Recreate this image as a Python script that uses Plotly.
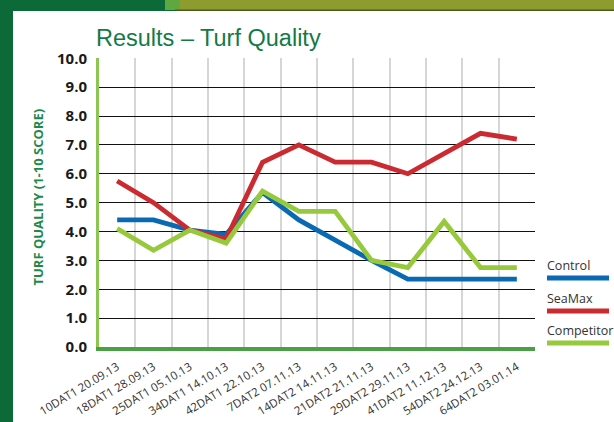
import plotly.graph_objects as go

categories = ["10DAT1 20.09.13", "18DAT1 28.09.13", "25DAT1 05.10.13", "34DAT1 14.10.13",
              "42DAT1 22.10.13", "7DAT2 07.11.13", "14DAT2 14.11.13", "21DAT2 21.11.13",
              "29DAT2 29.11.13", "41DAT2 11.12.13", "54DAT2 24.12.13", "64DAT2 03.01.14"]
control = [4.4, 4.4, 4.05, 3.9, 5.35, 4.4, 3.7, 3.0, 2.35, 2.35, 2.35, 2.35]
seamax = [5.75, 5.0, 4.05, 3.75, 6.4, 7.0, 6.4, 6.4, 6.0, 6.7, 7.4, 7.2]
competitor = [4.1, 3.35, 4.05, 3.6, 5.4, 4.7, 4.7, 3.0, 2.75, 4.35, 2.75, 2.75]
y_ticks = [0, 1, 2, 3, 4, 5, 6, 7, 8, 9, 10]

series = [("Control", control, "#0a69b3"),
          ("SeaMax", seamax, "#cc2a31"),
          ("Competitor", competitor, "#97c93d")]

W, H = 614, 422
L, R, T, B = 99, 535, 58, 347

def px(x):
    return (x - L) / (R - L)

def py(y):
    return (B - y) / (B - T)

xs = list(range(len(categories)))
fig = go.Figure()
for name, vals, col in series:
    fig.add_trace(go.Scatter(x=xs, y=vals, mode="lines", name=name,
                             line=dict(color=col, width=4.8), showlegend=False))

shapes = []
# background decorations
shapes.append(dict(type="rect", xref="paper", yref="paper", x0=px(13), x1=px(614), y0=py(422), y1=py(11),
                   fillcolor="white", line=dict(width=0), layer="below"))
shapes.append(dict(type="rect", xref="paper", yref="paper", x0=px(175), x1=px(614), y0=py(10), y1=py(0),
                   fillcolor="#8c9c2e", line=dict(width=0), layer="below"))
shapes.append(dict(type="rect", xref="paper", yref="paper", x0=px(165), x1=px(180), y0=py(10), y1=py(0),
                   fillcolor="#5fa840", line=dict(width=0), layer="below"))
shapes.append(dict(type="rect", xref="paper", yref="paper", x0=px(175), x1=px(614), y0=py(11), y1=py(9.5),
                   fillcolor="#4a5a1e", line=dict(width=0), layer="below"))

annotations = [
    dict(text="Results – Turf Quality", xref="paper", yref="paper", x=px(94), y=py(38),
         xanchor="left", yanchor="middle", showarrow=False,
         font=dict(family="Liberation Sans Narrow, Arial Narrow, sans-serif", size=23.5, color="#137a45")),
    dict(text="TURF QUALITY (1-10 SCORE)", xref="paper", yref="paper", x=px(37.5), y=py(197),
         xanchor="center", yanchor="middle", textangle=-90, showarrow=False,
         font=dict(family="Open Sans, sans-serif", size=13, color="#1e8a4a", weight="bold")),
]

# legend (text above a thick line sample)
leg_text_y = [265, 298, 330]
leg_line_y = [278, 311, 343]
for (name, vals, col), ty, ly in zip(series, leg_text_y, leg_line_y):
    annotations.append(dict(text=name, xref="paper", yref="paper", x=px(545), y=py(ty),
                            xanchor="left", yanchor="middle", showarrow=False,
                            font=dict(family="Open Sans, sans-serif", size=12.5, color="#333333")))
    shapes.append(dict(type="line", xref="paper", yref="paper", x0=px(547), x1=px(609),
                       y0=py(ly), y1=py(ly), line=dict(color=col, width=5)))

fig.update_layout(
    width=W, height=H,
    margin=dict(l=L, r=W - R, t=T, b=H - B, pad=0, autoexpand=False),
    paper_bgcolor="#0b6a37",
    plot_bgcolor="rgba(0,0,0,0)",
    shapes=shapes,
    annotations=annotations,
    xaxis=dict(range=[-0.5, 11.5], tickmode="array", tickvals=xs, ticktext=categories,
               tickangle=-31, showgrid=False, zeroline=False, automargin=False,
               showline=True, linecolor="#4aa043", linewidth=4,
               ticks="", ticklabelstandoff=5,
               tickfont=dict(family="Open Sans, sans-serif", size=11.5, color="#333333"),
               minor=dict(tickmode="array", tickvals=[i + 0.5 for i in range(12)],
                          showgrid=True, gridcolor="#d6d6d6", gridwidth=1.5, ticks=""),
               fixedrange=True),
    yaxis=dict(range=[0, 10.01], tickmode="array", tickvals=y_ticks,
               ticktext=[f"{v:.1f}" for v in y_ticks], automargin=False,
               showgrid=True, gridcolor="#111111", gridwidth=1, zeroline=False,
               showline=True, linecolor="#8cc54f", linewidth=3, ticks="",
               ticklabelstandoff=6,
               tickfont=dict(family="Open Sans, sans-serif", size=15, color="#1a1a1a", weight="bold"),
               fixedrange=True),
)

fig.write_html("out.html", config={"displayModeBar": False},
               post_script="document.body.style.margin='0';document.body.style.overflow='hidden';")
